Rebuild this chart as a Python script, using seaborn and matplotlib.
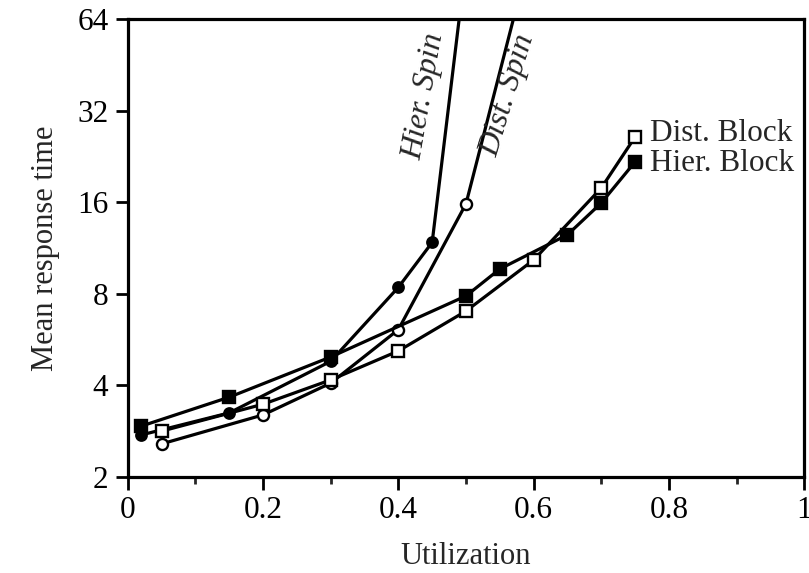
import matplotlib
matplotlib.use("Agg")
import matplotlib.pyplot as plt
import matplotlib.ticker as mticker
import seaborn as sns

# utilization / mean response time
hier_spin_x = [0.02, 0.15, 0.3, 0.4, 0.45, 0.5]
hier_spin_y = [2.75, 3.25, 4.8, 8.4, 11.8, 98]

dist_spin_x = [0.05, 0.2, 0.3, 0.4, 0.5, 0.6]
dist_spin_y = [2.57, 3.2, 4.07, 6.1, 15.8, 116]

hier_block_x = [0.02, 0.15, 0.3, 0.5, 0.55, 0.65, 0.7, 0.75]
hier_block_y = [2.94, 3.66, 4.96, 7.87, 9.65, 12.5, 15.9, 21.7]

dist_block_x = [0.05, 0.2, 0.3, 0.4, 0.5, 0.6, 0.7, 0.75]
dist_block_y = [2.83, 3.47, 4.17, 5.19, 7.02, 10.33, 17.8, 26.2]

y_ticks = [2, 4, 8, 16, 32, 64]
x_ticks = [0, 0.2, 0.4, 0.6, 0.8, 1]

sns.set_style("ticks")
plt.rcParams['font.family'] = ['Liberation Serif', 'DejaVu Serif']

fig = plt.figure(figsize=(8.09, 5.73), dpi=100)
ax = fig.add_axes([0.158, 0.1675, 0.836, 0.7995])

line_kw = dict(color="black", linewidth=2.3, markeredgewidth=1.7, markeredgecolor="black")
sns.lineplot(x=hier_spin_x, y=hier_spin_y, marker="o", markersize=7.5, markerfacecolor="black", ax=ax, **line_kw)
sns.lineplot(x=dist_spin_x, y=dist_spin_y, marker="o", markersize=8, markerfacecolor="white", ax=ax, **line_kw)
sns.lineplot(x=hier_block_x, y=hier_block_y, marker="s", markersize=9, markerfacecolor="black", ax=ax, **line_kw)
sns.lineplot(x=dist_block_x, y=dist_block_y, marker="s", markersize=9, markerfacecolor="white", ax=ax, **line_kw)

ax.set_yscale("log", base=2)
ax.set_ylim(2, 64)
ax.set_xlim(0, 1)
ax.set_yticks(y_ticks)
ax.yaxis.set_major_formatter(mticker.FuncFormatter(lambda v, p: f"{v:g}"))
ax.yaxis.set_minor_locator(mticker.NullLocator())
ax.set_xticks(x_ticks)
ax.set_xticklabels(["0", "0.2", "0.4", "0.6", "0.8", "1"])
ax.xaxis.set_minor_locator(mticker.MultipleLocator(0.1))

for s in ax.spines.values():
    s.set_linewidth(2.3)
    s.set_color("black")
ax.tick_params(axis="both", which="major", direction="out", length=9, width=2, labelsize=22.5, colors="black", pad=5)
ax.tick_params(axis="x", which="minor", direction="out", length=5, width=2)

ax.set_xlabel("Utilization", fontsize=22, labelpad=12)
ax.set_ylabel("Mean response time", fontsize=22, labelpad=12)

ax.text(0.438, 35.5, "Hier. Spin", rotation=80, fontsize=23, style="italic", ha="center", va="center")
ax.text(0.562, 36, "Dist. Spin", rotation=73, fontsize=23, style="italic", ha="center", va="center")
ax.text(0.772, 26.8, "Dist. Block", fontsize=22.5, ha="left", va="center")
ax.text(0.772, 21.4, "Hier. Block", fontsize=22.5, ha="left", va="center")

fig.savefig("out.png", dpi=100)
